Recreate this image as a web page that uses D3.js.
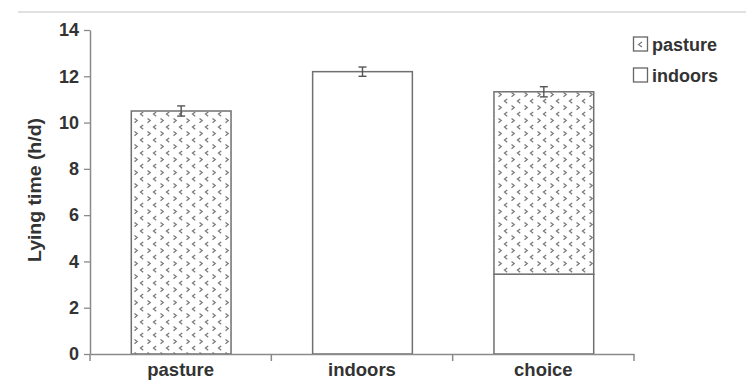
<!DOCTYPE html>
<html>
<head>
<meta charset="utf-8">
<script src="https://cdn.jsdelivr.net/npm/d3@7"></script>
<style>
  html, body { margin: 0; padding: 0; background: #fff; }
  svg { display: block; font-family: "Liberation Sans", Arial, Helvetica, sans-serif; }
</style>
</head>
<body>
<svg id="chart" width="746" height="382"></svg>
<script>
// ---- data ----
const categories = ["pasture", "indoors", "choice"];
const pastureTime = [10.5, 0, 7.88];
const indoorsTime = [0, 12.2, 3.45];
const errorSE = [0.22, 0.2, 0.22];
const yTicks = [0, 2, 4, 6, 8, 10, 12, 14];
const seriesNames = ["pasture", "indoors"];
const yLabel = "Lying time (h/d)";

const svg = d3.select("#chart");
const axisColor = "#8a8a8a";
const textColor = "#333";

const x = d3.scaleBand().domain(categories).range([90, 634]).padding(0);
const y = d3.scaleLinear().domain([0, 14]).range([354, 30]);

// pattern
const defs = svg.append("defs");
const pat = defs.append("pattern")
  .attr("id", "chev").attr("patternUnits", "userSpaceOnUse")
  .attr("width", 13).attr("height", 13).attr("x", 132).attr("y", 0);
pat.append("rect").attr("width", 13).attr("height", 13).attr("fill", "#fff");
pat.append("path").attr("d", "M2.5,1.5 L5.2,3.6 L2.5,5.7")
  .attr("fill", "none").attr("stroke", "#7a7a7a").attr("stroke-width", 1.3);
pat.append("path").attr("d", "M11.2,8 L8.5,10.1 L11.2,12.2")
  .attr("fill", "none").attr("stroke", "#7a7a7a").attr("stroke-width", 1.3);

// top thin rule (cropped figure edge)
svg.append("line").attr("x1", 18).attr("x2", 746).attr("y1", 12).attr("y2", 12)
  .attr("stroke", "#c4c4c4").attr("stroke-width", 1.2);

// stacked data
const rows = categories.map((c, i) => ({ cat: c, pasture: pastureTime[i], indoors: indoorsTime[i] }));
const stack = d3.stack().keys(["indoors", "pasture"]);
const stacked = stack(rows);

const barW = x.bandwidth() * 0.55;
const fills = { indoors: "#fff", pasture: "url(#chev)" };

stacked.forEach(layer => {
  svg.append("g").selectAll("rect").data(layer.filter(d => d[1] - d[0] > 0)).join("rect")
    .attr("x", d => x(d.data.cat) + (x.bandwidth() - barW) / 2 + 0.5)
    .attr("width", barW)
    .attr("y", d => y(d[1]))
    .attr("height", d => y(d[0]) - y(d[1]))
    .attr("fill", fills[layer.key])
    .attr("stroke", "#707070")
    .attr("stroke-width", 1.5);
});

// error bars
const totals = rows.map(r => r.pasture + r.indoors);
const eb = svg.append("g").attr("stroke", "#555").attr("stroke-width", 1.4);
categories.forEach((c, i) => {
  const cx = x(c) + x.bandwidth() / 2 + 0.5;
  const t = totals[i], e = errorSE[i];
  eb.append("line").attr("x1", cx).attr("x2", cx).attr("y1", y(t + e)).attr("y2", y(t - e));
  eb.append("line").attr("x1", cx - 4).attr("x2", cx + 4).attr("y1", y(t + e)).attr("y2", y(t + e));
  eb.append("line").attr("x1", cx - 4).attr("x2", cx + 4).attr("y1", y(t - e)).attr("y2", y(t - e));
});

// y axis
const yAxis = svg.append("g").attr("transform", "translate(90,0)")
  .call(d3.axisLeft(y).tickValues(yTicks).tickSize(6).tickSizeOuter(0).tickPadding(5));
yAxis.select(".domain").attr("stroke", axisColor).attr("stroke-width", 1.5);
yAxis.selectAll(".tick line").attr("stroke", axisColor).attr("stroke-width", 1.3);
yAxis.selectAll(".tick text").attr("fill", textColor).attr("font-size", 18)
  .attr("font-weight", "bold").attr("font-family", "Liberation Sans, Arial, sans-serif");

// x axis
const xAxis = svg.append("g").attr("transform", "translate(0,354)")
  .call(d3.axisBottom(x).tickSize(0).tickSizeOuter(0).tickPadding(9));
xAxis.select(".domain").attr("stroke", axisColor).attr("stroke-width", 1.5);
xAxis.selectAll(".tick text").attr("fill", textColor).attr("font-size", 18.5)
  .attr("font-weight", "bold").attr("font-family", "Liberation Sans, Arial, sans-serif")
  .attr("dy", "0.68em");
// boundary ticks between categories
const bounds = categories.map(c => x(c)).concat([x(categories[categories.length - 1]) + x.bandwidth()]);
xAxis.append("g").selectAll("line").data(bounds).join("line")
  .attr("x1", d => d).attr("x2", d => d).attr("y1", 0).attr("y2", 7)
  .attr("stroke", axisColor).attr("stroke-width", 1.5);

// y label
svg.append("text")
  .attr("transform", "translate(41,190) rotate(-90)")
  .attr("text-anchor", "middle")
  .attr("font-size", 17.5).attr("font-weight", "bold").attr("fill", textColor)
  .attr("textLength", 144).attr("lengthAdjust", "spacingAndGlyphs")
  .text(yLabel);

// legend
const leg = svg.append("g");
seriesNames.forEach((s, i) => {
  const ly = 37 + i * 31;
  leg.append("rect").attr("x", 633.5).attr("y", ly).attr("width", 14).attr("height", 14)
    .attr("fill", "#fff").attr("stroke", "#666").attr("stroke-width", 1.3);
  if (s === "pasture") {
    leg.append("path").attr("d", `M642,${ly + 5} L638.5,${ly + 7.5} L642,${ly + 10}`)
      .attr("fill", "none").attr("stroke", "#777").attr("stroke-width", 1.2);
  }
  leg.append("text").attr("x", 652).attr("y", ly + 13.5)
    .attr("font-size", 18).attr("font-weight", "bold").attr("fill", textColor)
    .text(s);
});
</script>
</body>
</html>
